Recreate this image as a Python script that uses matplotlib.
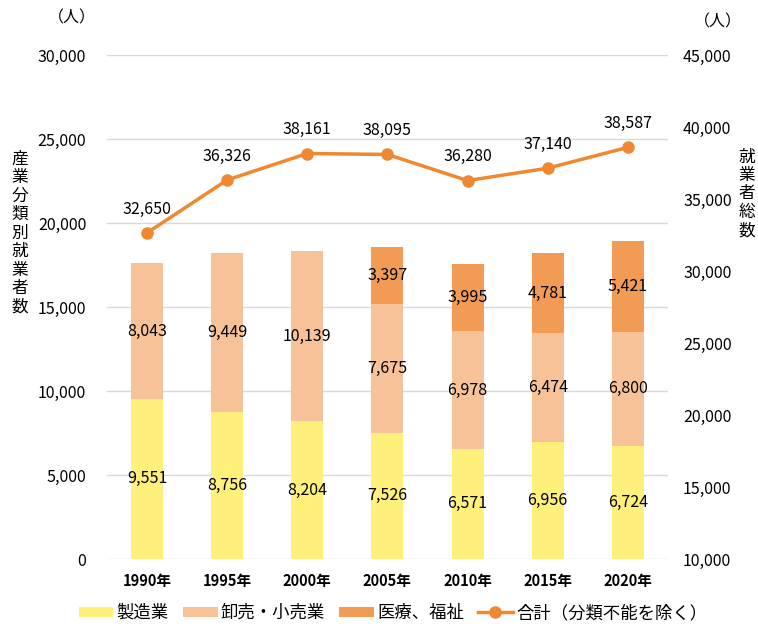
import matplotlib
matplotlib.use("Agg")
import matplotlib.pyplot as plt
import numpy as np
from matplotlib.ticker import FuncFormatter

plt.rcParams['font.family'] = ['Noto Sans CJK JP', 'DejaVu Sans']

years = ['1990年', '1995年', '2000年', '2005年', '2010年', '2015年', '2020年']
manufacturing = [9551, 8756, 8204, 7526, 6571, 6956, 6724]
retail = [8043, 9449, 10139, 7675, 6978, 6474, 6800]
medical = [0, 0, 0, 3397, 3995, 4781, 5421]
total = [32650, 36326, 38161, 38095, 36280, 37140, 38587]

c_manu = '#FEF07A'
c_retail = '#F8C298'
c_med = '#F29B55'
c_line = '#EF8830'

fig = plt.figure(figsize=(7.58, 6.31), dpi=100)
ax = fig.add_axes([0.1412, 0.1141, 0.7398, 0.7987])
ax2 = ax.twinx()

x = np.arange(len(years))
w = 0.4
manu = np.array(manufacturing)
ret = np.array(retail)
med = np.array(medical)

b1 = ax.bar(x, manu, w, color=c_manu, zorder=2, label='製造業')
b2 = ax.bar(x, ret, w, bottom=manu, color=c_retail, zorder=2, label='卸売・小売業')
b3 = ax.bar(x, med, w, bottom=manu + ret, color=c_med, zorder=2, label='医療、福祉')

fs = 11.5
for i in range(len(years)):
    ax.text(x[i], manu[i] / 2, f'{manu[i]:,}', ha='center', va='center', fontsize=fs)
    ax.text(x[i], manu[i] + ret[i] / 2, f'{ret[i]:,}', ha='center', va='center', fontsize=fs)
    if med[i] > 0:
        ax.text(x[i], manu[i] + ret[i] + med[i] / 2, f'{med[i]:,}', ha='center',
                va='center', fontsize=fs)

ln, = ax2.plot(x, total, color=c_line, lw=2.5, marker='o', ms=8, zorder=3,
               label='合計（分類不能を除く）')
for i in range(len(years)):
    ax2.annotate(f'{total[i]:,}', (x[i], total[i]), xytext=(0, 11),
                 textcoords='offset points', ha='center', va='bottom', fontsize=fs)

ax.set_xlim(-0.5, len(years) - 0.5)
ax.set_ylim(0, 30000)
ax2.set_ylim(10000, 45000)
ax.set_yticks(np.arange(0, 30001, 5000))
ax2.set_yticks(np.arange(10000, 45001, 5000))
fmt = FuncFormatter(lambda v, p: f'{int(v):,}')
ax.yaxis.set_major_formatter(fmt)
ax2.yaxis.set_major_formatter(fmt)
ax.set_xticks(x)
ax.set_xticklabels(years, fontsize=10.5, fontweight='bold')

ax.grid(axis='y', color='#D9D9D9', lw=1, zorder=0)
ax.set_axisbelow(True)
for a in (ax, ax2):
    for s in a.spines.values():
        s.set_visible(False)
    a.tick_params(length=0, labelsize=11.5)
ax.tick_params(axis='y', pad=15)
ax.tick_params(axis='x', pad=10, labelsize=10.5)
ax2.tick_params(axis='y', pad=11)

fig.text(72 / 758, 1 - 18 / 631, '（人）', ha='center', va='center', fontsize=11.5)
fig.text(718 / 758, 1 - 22 / 631, '（人）', ha='center', va='center', fontsize=11.5)
fig.text(20 / 758, 1 - 233 / 631, '\n'.join('産業分類別就業者数'), ha='center',
         va='center', fontsize=12, linespacing=1.12)
fig.text(747 / 758, 1 - 194 / 631, '\n'.join('就業者総数'), ha='center',
         va='center', fontsize=12, linespacing=1.1)

fig.legend(handles=[b1, b2, b3, ln], loc='center', bbox_to_anchor=(393 / 758, 1 - 613 / 631),
           ncol=4, frameon=False, fontsize=12.5, handlelength=2.0, handleheight=0.55,
           columnspacing=0.8, handletextpad=0.2, borderaxespad=0, borderpad=0)

fig.savefig('out.png', dpi=100)
